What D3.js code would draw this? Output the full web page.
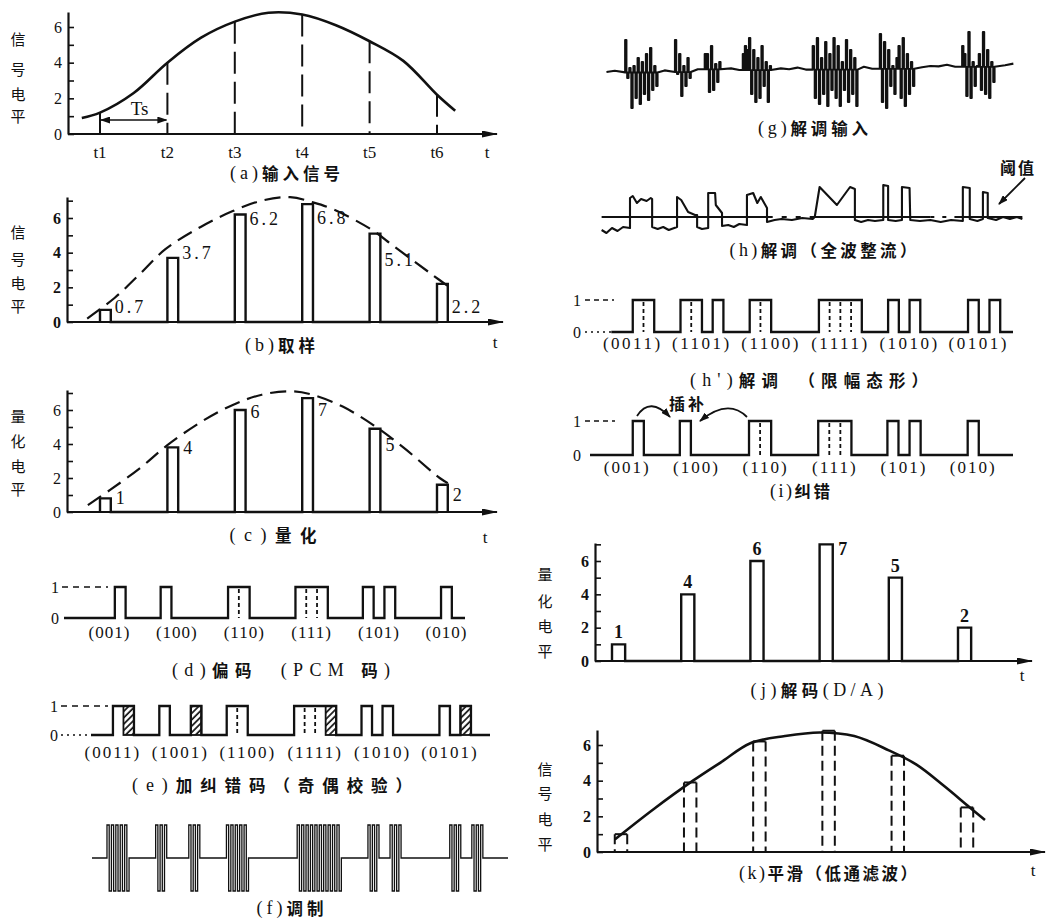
<!DOCTYPE html>
<html>
<head>
<meta charset="utf-8">
<title>PCM 信号处理过程</title>
<script src="https://cdn.jsdelivr.net/npm/d3@7"></script>
<style>
  body { margin: 0; background: #fff; }
</style>
</head>
<body>
<svg width="1049" height="922" id="mainsvg"></svg>
<script>
// ---- data ----
const sampleTimes = [1, 2, 3, 4, 5, 6];
const tLabels = ['t1', 't2', 't3', 't4', 't5', 't6'];
const sampleValues = [0.7, 3.7, 6.2, 6.8, 5.1, 2.2];
const quantLevels = [1, 4, 6, 7, 5, 2];
const cPulseHeights = [0.8, 3.8, 6.0, 6.7, 4.9, 1.6];   // heights as drawn in (c)
const kPulseHeights = [1.0, 3.9, 6.2, 6.8, 5.4, 2.5];   // heights as drawn in (k)
const pcmCodes = ['001', '100', '110', '111', '101', '010'];
const parityCodes = ['0011', '1001', '1100', '1111', '1010', '0101'];
const receivedCodes = ['0011', '1101', '1100', '1111', '1010', '0101'];
const correctedCodes = ['001', '100', '110', '111', '101', '010'];

// [t, level] points of the smooth signals
const inputCurve = [[0.73,0.9],[1,1.2],[1.5,2.3],[2,4.0],[2.5,5.4],[3,6.3],[3.5,6.8],[4,6.7],[4.5,6.1],[5,5.2],[5.5,4.1],[6,2.2],[6.27,1.3]];
const bCurve = [[0.81,0.2],[1.22,1.4],[1.6,2.8],[1.97,4.2],[2.5,5.5],[2.97,6.4],[3.4,7.0],[3.82,7.2],[4.16,6.9],[4.46,6.5],[5.04,5.3],[5.35,4.4],[5.94,2.7],[6.24,1.85]];
const cCurve = [[0.82,0.4],[1.15,1.3],[1.6,2.6],[1.99,3.9],[2.5,5.3],[2.97,6.3],[3.4,6.9],[3.82,7.1],[4.15,6.9],[4.6,6.2],[5.06,5.1],[5.5,3.8],[6.04,2.0],[6.16,1.7]];
const kCurve = [[1.04,0.7],[1.6,2.4],[2.17,4.0],[2.6,5.1],[3.0,6.1],[3.5,6.5],[4.0,6.7],[4.5,6.5],[5.0,5.7],[5.4,4.9],[5.8,3.7],[6.17,2.5],[6.39,1.8]];

// (g) received signal: baseline wobble every 0.12 Ts from t=0.92, and noise bursts
const gBaseStart = 0.92, gBaseStep = 0.12, gSpikeStep = 0.03;
const gBaseline = [-0.5,-0.2,-0.6,-0.3,-0.5,0,-0.4,-0.1,-0.5,0.1,-0.3,0.2,-0.2,0.3,-0.1,0.4,0,0.3,-0.1,0.5,0.1,0.4,0.2,0.6,0.1,0.5,0.3,0.7,0.2,0.6,0.4,0.8,0.3,0.9,0.5,1.0,0.6,1.1,0.7,1.0,0.9,1.3,0.8,1.2,1.1,1.5,1.0,1.4,1.2,1.6];
const gBursts = [
  {t0: 1.19, amps: [7.5,-2,0.5,-9.5,1,-7,3,-8.5,2,-6,4,-7.5,5.5,-5,1,-4]},
  {t0: 1.91, amps: [7.5,-1,4,-6.5,1,-4,3,-2]},
  {t0: 2.34, amps: [4,4,-5.5,6,-5,1.5,-3,2]},
  {t0: 2.89, amps: [4,6,5,8,-6,5,-8,3,-7,6,-4,2,-8,1]},
  {t0: 3.90, amps: [6,-7,8,-8.5,3,-6,7,-9,4,-5,8,-7,6,-9,2,-5,7.5,-8,5,-6,3,-9]},
  {t0: 4.87, amps: [9,-8,7,-9.5,5,-4,1,-6,3,6,-7,8,-9,4,-6,2,-4]},
  {t0: 6.06, amps: [6,4,-6.5,9.5,-7,2,-4,1,4,-5,9.5,-6,5,-7,2,-3]}
];
// (h) rectified signal [t, level], threshold level
const hThreshold = 3.4;
const hTrace = [[0.85,0.8],[0.92,0.2],[1.0,1.2],[1.08,0.6],[1.16,1.4],[1.26,1.2],[1.26,7.2],[1.3,7.6],[1.36,6.2],[1.42,7.0],[1.5,6.6],[1.56,7.2],[1.58,7.0],[1.58,1.4],[1.66,1.0],[1.74,1.4],[1.82,0.8],[1.9,1.2],[1.94,1.4],[1.94,7.4],[2.0,6.8],[2.1,4.4],[2.2,3.8],[2.23,3.8],[2.23,1.4],[2.3,1.0],[2.39,1.2],[2.39,8.2],[2.49,8.2],[2.5,5.8],[2.59,4.2],[2.59,1.6],[2.68,1.8],[2.76,1.4],[2.84,2.0],[2.95,1.8],[2.95,7.8],[3.04,8.2],[3.1,6.2],[3.15,7.4],[3.24,5.2],[3.24,2.4],[3.35,2.8],[3.45,3.0],[3.6,2.8],[3.75,3.2],[3.9,3.0],[3.93,3.4],[4.0,9.4],[4.25,5.8],[4.44,9.4],[4.51,9.0],[4.51,2.8],[4.6,2.4],[4.7,2.8],[4.8,2.6],[4.92,2.8],[4.92,9.8],[4.99,9.6],[4.99,2.8],[5.1,2.6],[5.19,2.8],[5.19,9.4],[5.3,9.2],[5.31,2.8],[5.45,2.6],[5.6,2.8],[5.75,2.4],[5.9,2.8],[6.07,2.6],[6.07,9.4],[6.17,9.2],[6.17,3.0],[6.28,2.6],[6.36,3.0],[6.36,8.4],[6.43,8.2],[6.43,3.2],[6.55,2.8],[6.65,3.4],[6.75,3.0],[6.85,3.4],[6.93,3.0]];

// ---- setup ----
const svg = d3.select('#mainsvg');
const INK = '#111';
const SERIF = '"Liberation Serif", "DejaVu Serif", serif';
const CJK = '"Noto Sans CJK SC", sans-serif';

const defs = svg.append('defs');
function addMarker(id, len, half) {
  defs.append('marker').attr('id', id)
    .attr('viewBox', `0 0 ${len} ${half * 2}`).attr('refX', len - 1).attr('refY', half)
    .attr('markerWidth', len).attr('markerHeight', half * 2)
    .attr('markerUnits', 'userSpaceOnUse').attr('orient', 'auto-start-reverse')
    .append('path').attr('d', `M0,0L${len},${half}L0,${half * 2}Z`).attr('fill', INK);
}
addMarker('axisArrow', 16, 3.5);
addMarker('smallArrow', 10, 3.5);
const hatch = defs.append('pattern').attr('id', 'hatch').attr('patternUnits', 'userSpaceOnUse')
  .attr('width', 4.5).attr('height', 4.5).attr('patternTransform', 'rotate(45)');
hatch.append('rect').attr('width', 4.5).attr('height', 4.5).attr('fill', '#fff');
hatch.append('line').attr('x1', 1).attr('y1', 0).attr('x2', 1).attr('y2', 4.5)
  .attr('stroke', INK).attr('stroke-width', 1.7);

// time scales: left column, modulated row, right column
const xL = d3.scaleLinear().domain([1, 6]).range([100, 437]);
const xF = d3.scaleLinear().domain([1, 6]).range([93.4, 447.2]);
const xR = d3.scaleLinear().domain([1, 6]).range([612, 958]);

// level scale from baseline pixel, pixel of level 6 and axis top pixel
function levelScale(base, px6, topPx) {
  const s = d3.scaleLinear().domain([0, 6]).range([base, px6]);
  return s.domain([0, s.invert(topPx)]).range([base, topPx]);
}
const yA = levelScale(134, 27, 12);
const yB = levelScale(322, 218, 197);
const yC = levelScale(512, 410, 390);
const yJ = levelScale(661, 561, 543);
const yK = levelScale(852, 745, 730);

function txt(x, y, s, o = {}) {
  return svg.append('text').attr('x', x).attr('y', y).text(s)
    .attr('fill', INK).attr('dominant-baseline', 'central')
    .attr('text-anchor', o.anchor || 'middle')
    .attr('font-family', o.family || SERIF)
    .attr('font-size', o.size || 17)
    .attr('font-weight', o.weight || 400)
    .attr('letter-spacing', o.ls || 0);
}

// caption: latin parts in serif, Chinese bold, spread to the measured width
function caption(cx, cy, str, width) {
  const t = svg.append('text').attr('x', cx).attr('y', cy)
    .attr('text-anchor', 'middle').attr('dominant-baseline', 'central').attr('fill', INK)
    .attr('textLength', width).attr('lengthAdjust', 'spacing');
  str.match(/[\x00-\x7f]+|[^\x00-\x7f]+/g).forEach(run => {
    const ascii = /^[\x00-\x7f]/.test(run);
    t.append('tspan').attr('font-family', ascii ? SERIF : CJK)
      .attr('font-size', ascii ? 18 : 16.5)
      .attr('font-weight', ascii ? 400 : 700).text(run);
  });
}

function vLabel(x, ys, str) {
  [...str].forEach((ch, i) => txt(x, ys[i], ch, {family: CJK, size: 15}));
}

function drawFrame(x0, xEnd, y, bold) {
  const top = y.domain()[1];
  const axis = d3.axisLeft(y).tickValues(d3.range(0, Math.floor(top + 1e-6) + 1))
    .tickSize(-6).tickSizeOuter(0).tickPadding(6)
    .tickFormat(d => d % 2 ? '' : d);
  const g = svg.append('g').attr('transform', `translate(${x0},0)`).call(axis);
  g.select('.domain').attr('stroke', INK).attr('stroke-width', 2.2);
  g.selectAll('.tick line').attr('stroke', INK).attr('stroke-width', 1.6);
  g.selectAll('.tick text').attr('fill', INK).attr('font-family', SERIF)
    .attr('font-size', 16).attr('font-weight', bold ? 700 : 400);
  svg.append('line').attr('x1', x0).attr('x2', xEnd).attr('y1', y(0)).attr('y2', y(0))
    .attr('stroke', INK).attr('stroke-width', 2.2).attr('marker-end', 'url(#axisArrow)');
}

function smooth(x, y, pts, dash, width) {
  svg.append('path')
    .attr('d', d3.line().x(d => x(d[0])).y(d => y(d[1])).curve(d3.curveCatmullRom)(pts))
    .attr('fill', 'none').attr('stroke', INK).attr('stroke-width', width)
    .attr('stroke-dasharray', dash || null);
}

function pulseTrain(x, y, heights, w, offset = 0) {
  const pts = [];
  sampleTimes.forEach((t, i) => {
    const a = x(t + offset), b = x(t + offset + w);
    pts.push([a, y(0)], [a, y(heights[i])], [b, y(heights[i])], [b, y(0)]);
  });
  svg.append('path').attr('d', d3.line()(pts)).attr('fill', 'none')
    .attr('stroke', INK).attr('stroke-width', 2.4).attr('stroke-linejoin', 'miter');
}

function bitTrain(x, yLo, yHi, codes, offset, bw, xStart, xEnd, hatchParity) {
  const pts = [[xStart, yLo]];
  codes.forEach((code, i) => {
    const bits = [...code].map(Number);
    const x0 = sampleTimes[i] + offset;
    bits.forEach((b, j) => pts.push([x(x0 + j * bw), b ? yHi : yLo]));
    pts.push([x(x0 + bits.length * bw), yLo]);
    const last = bits.length - 1;
    if (hatchParity && bits[last]) {
      svg.append('rect').attr('x', x(x0 + last * bw)).attr('y', yHi)
        .attr('width', x(x0 + bits.length * bw) - x(x0 + last * bw)).attr('height', yLo - yHi)
        .attr('fill', 'url(#hatch)').attr('stroke', INK).attr('stroke-width', 1.8);
    }
    bits.forEach((b, j) => {
      if (j > 0 && b && bits[j - 1] && !(hatchParity && j === last)) {
        svg.append('line').attr('x1', x(x0 + j * bw)).attr('x2', x(x0 + j * bw))
          .attr('y1', yHi + 2).attr('y2', yLo)
          .attr('stroke', INK).attr('stroke-width', 1.8).attr('stroke-dasharray', '4,3');
      }
    });
  });
  pts.push([xEnd, yLo]);
  svg.append('path').attr('d', d3.line().curve(d3.curveStepAfter)(pts))
    .attr('fill', 'none').attr('stroke', INK).attr('stroke-width', 2.3);
}

function codeLabels(x, codes, offset, bw, y, ls) {
  codes.forEach((code, i) => {
    const c = x(sampleTimes[i] + offset + code.length * bw / 2);
    txt(c, y, `(${code})`, {size: 17, ls: ls});
  });
}

function levelGuide(xText, y, label, x1, x2, dash) {
  txt(xText, y, label, {size: 16});
  svg.append('line').attr('x1', x1).attr('x2', x2).attr('y1', y).attr('y2', y)
    .attr('stroke', INK).attr('stroke-width', 1.4).attr('stroke-dasharray', dash);
}

// ---- (a) input signal ----
vLabel(18, [38, 68, 93, 115], '信号电平');
drawFrame(68, 497, yA, false);
smooth(xL, yA, inputCurve, null, 2.6);
sampleTimes.forEach((t, i) => {
  const v = inputCurve.find(p => p[0] === t)[1];
  svg.append('line').attr('x1', xL(t)).attr('x2', xL(t)).attr('y1', yA(v)).attr('y2', yA(0))
    .attr('stroke', INK).attr('stroke-width', 2).attr('stroke-dasharray', '22,8');
  txt(xL(t), 152, tLabels[i], {size: 17});
});
svg.append('line').attr('x1', xL(1) + 1).attr('x2', xL(2) - 1).attr('y1', 120).attr('y2', 120)
  .attr('stroke', INK).attr('stroke-width', 1.6)
  .attr('marker-start', 'url(#smallArrow)').attr('marker-end', 'url(#smallArrow)');
svg.append('line').attr('x1', xL(1)).attr('x2', xL(1)).attr('y1', 112).attr('y2', 124)
  .attr('stroke', INK).attr('stroke-width', 2);
txt((xL(1) + xL(2)) / 2 + 6, 108, 'Ts', {size: 19});
txt(487, 152, 't', {size: 17});
caption(285, 173, '(a)输入信号', 110);

// ---- (b) sampling ----
vLabel(18, [231, 258, 282, 305], '信号电平');
drawFrame(67, 503, yB, true);
smooth(xL, yB, bCurve, '16,8', 2.2);
pulseTrain(xL, yB, sampleValues, 0.16);
const bLabelDy = [-3, -5, 4, 14, 26, 23];
sampleTimes.forEach((t, i) => {
  txt(xL(t + 0.16) + 4, yB(sampleValues[i]) + bLabelDy[i], sampleValues[i].toFixed(1),
    {anchor: 'start', size: 18, ls: 3});
});
txt(495, 342, 't', {size: 17});
caption(280, 345, '(b)取样', 70);

// ---- (c) quantisation ----
vLabel(18, [415, 440, 465, 488], '量化电平');
drawFrame(67, 497, yC, false);
smooth(xL, yC, cCurve, '16,8', 2.2);
pulseTrain(xL, yC, cPulseHeights, 0.16);
const cLabelDy = [0, 1, 2, 12, 16, 10];
sampleTimes.forEach((t, i) => {
  txt(xL(t + 0.16) + 5, yC(cPulseHeights[i]) + cLabelDy[i], quantLevels[i], {anchor: 'start', size: 18});
});
txt(485, 537, 't', {size: 17});
caption(273, 535, '(c)量化', 87);

// ---- (d) PCM coding ----
levelGuide(55, 587, '1', 62, 108, '6,5');
txt(55, 618, '0', {size: 16});
bitTrain(xL, 618, 587, pcmCodes, -0.1, 0.16, 64, 465, false);
codeLabels(xL, pcmCodes, -0.1, 0.16, 632, 1);
caption(281, 670, '(d)偏码　(PCM 码)', 218);

// ---- (e) parity ----
levelGuide(54, 706, '1', 61, 108, '6,5');
levelGuide(54, 735, '0', 61, 91, '2,4');
bitTrain(xL, 735, 706, parityCodes, -0.12, 0.156, 91, 490, true);
codeLabels(xL, parityCodes, -0.12, 0.156, 752, 2);
caption(272, 785, '(e)加纠错码（奇偶校验）', 280);

// ---- (f) modulation ----
(function () {
  const base = 858, amp = 33, half = 5, offset = -0.12, bw = 0.156;
  const pts = [[92, base]];
  parityCodes.forEach((code, i) => {
    const bits = [...code].map(Number);
    const x0 = sampleTimes[i] + offset;
    let j = 0;
    while (j < bits.length) {
      if (!bits[j]) { j++; continue; }
      let k = j;
      while (k < bits.length && bits[k]) k++;
      const xa = xF(x0 + j * bw), xb = xF(x0 + k * bw);
      const n = (k - j) * half, hp = (xb - xa) / n;
      pts.push([xa, base]);
      for (let m = 0; m < n; m++) {
        const yy = m % 2 ? base + amp : base - amp;
        pts.push([xa + m * hp, yy], [xa + (m + 1) * hp, yy]);
      }
      pts.push([xb, base]);
      j = k;
    }
  });
  pts.push([508, base]);
  svg.append('path').attr('d', d3.line()(pts)).attr('fill', 'none')
    .attr('stroke', INK).attr('stroke-width', 1.3);
})();
caption(290, 908, '(f)调制', 67);

// ---- (g) demodulator input ----
(function () {
  const yG = d3.scaleLinear().domain([-10, 10]).range([110, 30]);
  const ranges = gBursts.map(b => [b.t0, b.t0 + b.amps.length * gSpikeStep]);
  const pts = [];
  gBaseline.forEach((v, k) => {
    const t = gBaseStart + k * gBaseStep;
    if (!ranges.some(r => t >= r[0] - 0.03 && t <= r[1] + 0.03)) pts.push([t, v]);
  });
  gBursts.forEach(b => {
    // level the burst rides on: last baseline sample before it
    const k0 = Math.max(0, Math.floor((b.t0 - gBaseStart) / gBaseStep));
    const lvl = gBaseline[k0];
    b.amps.forEach((a, k) => {
      const t = b.t0 + k * gSpikeStep, w = gSpikeStep * 0.6;
      pts.push([t, lvl], [t, a], [t + w, a], [t + w, lvl]);
    });
  });
  pts.sort((a, b) => a[0] - b[0]);
  svg.append('path').attr('d', d3.line().x(d => xR(d[0])).y(d => yG(d[1]))(pts))
    .attr('fill', 'none').attr('stroke', INK).attr('stroke-width', 2.1).attr('stroke-linejoin', 'round');
})();
caption(813, 128, '(g)解调输入', 110);

// ---- (h) full-wave rectified ----
(function () {
  const yH = d3.scaleLinear().domain([0, 10]).range([234, 184]);
  const seg = (t1, t2, dash) => svg.append('line')
    .attr('x1', xR(t1)).attr('x2', xR(t2)).attr('y1', yH(hThreshold)).attr('y2', yH(hThreshold))
    .attr('stroke', INK).attr('stroke-width', 1.8).attr('stroke-dasharray', dash);
  seg(0.85, 3.25, null);
  seg(3.25, 3.93, '5,9');
  seg(3.93, 5.6, null);
  seg(5.6, 5.95, '4,8');
  seg(5.95, 6.93, null);
  svg.append('path').attr('d', d3.line().x(d => xR(d[0])).y(d => yH(d[1]))(hTrace))
    .attr('fill', 'none').attr('stroke', INK).attr('stroke-width', 2.1).attr('stroke-linejoin', 'round');
})();
txt(1018, 167, '阈值', {family: CJK, size: 16, weight: 700, ls: 2});
svg.append('line').attr('x1', 1025).attr('y1', 178).attr('x2', 999).attr('y2', 204)
  .attr('stroke', INK).attr('stroke-width', 1.8).attr('marker-end', 'url(#smallArrow)');
caption(823, 250, '(h)解调（全波整流）', 187);

// ---- (h') limited ----
levelGuide(577, 300, '1', 585, 614, '5,4');
levelGuide(577, 332, '0', 585, 614, '2,4');
bitTrain(xR, 332, 300, receivedCodes, -0.01, 0.155, 614, 1013, false);
codeLabels(xR, receivedCodes, -0.01, 0.155, 343, 2.5);
caption(809, 380, "(h')解调　（限幅态形）", 238);

// ---- (i) error correction ----
levelGuide(577, 421, '1', 585, 615, '5,4');
txt(577, 455, '0', {size: 16});
bitTrain(xR, 455, 421, correctedCodes, -0.02, 0.16, 590, 1013, false);
codeLabels(xR, correctedCodes, -0.02, 0.16, 467, 2);
txt(688, 403, '插补', {family: CJK, size: 16, weight: 700, ls: 3});
svg.append('path').attr('d', 'M637,416 Q650,396 670,417')
  .attr('fill', 'none').attr('stroke', INK).attr('stroke-width', 1.8).attr('marker-end', 'url(#smallArrow)');
svg.append('path').attr('d', 'M747,417 Q728,398 700,421')
  .attr('fill', 'none').attr('stroke', INK).attr('stroke-width', 1.8).attr('marker-end', 'url(#smallArrow)');
caption(800, 491, '(i)纠错', 60);

// ---- (j) decoding ----
vLabel(545, [573, 600, 625, 650], '量化电平');
drawFrame(595, 1032, yJ, true);
pulseTrain(xR, yJ, quantLevels, 0.19);
const qMax = d3.max(quantLevels);
sampleTimes.forEach((t, i) => {
  const v = quantLevels[i];
  if (v === qMax) txt(xR(t + 0.19) + 10, yJ(v) + 5, v, {size: 18, weight: 700});
  else txt(xR(t + 0.095), yJ(v) - 12, v, {size: 18, weight: 700});
});
txt(1022, 675, 't', {size: 17});
caption(817, 690, '(j)解码(D/A)', 133);

// ---- (k) smoothing ----
vLabel(545, [768, 792, 818, 843], '信号电平');
drawFrame(597, 1045, yK, true);
sampleTimes.forEach((t, i) => {
  const a = xR(t + 0.04), b = xR(t + 0.22), top = yK(kPulseHeights[i]);
  [a, b].forEach(xx => svg.append('line').attr('x1', xx).attr('x2', xx).attr('y1', top).attr('y2', yK(0))
    .attr('stroke', INK).attr('stroke-width', 2).attr('stroke-dasharray', '10,5'));
  svg.append('line').attr('x1', a).attr('x2', b).attr('y1', top).attr('y2', top)
    .attr('stroke', INK).attr('stroke-width', 2);
});
smooth(xR, yK, kCurve, null, 2.6);
txt(1033, 870, 't', {size: 17});
caption(828, 873, '(k)平滑（低通滤波）', 178);
</script>
</body>
</html>
